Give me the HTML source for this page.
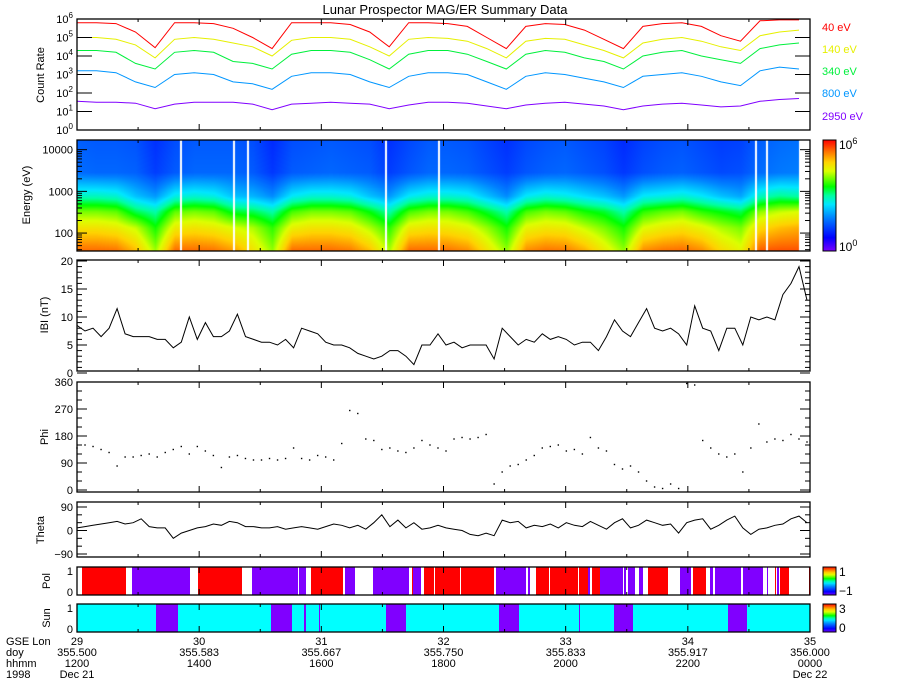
<!DOCTYPE html>
<html><head><meta charset="utf-8"><style>
html,body{margin:0;padding:0;background:#fff;width:900px;height:700px;overflow:hidden}
#wrap{position:relative;width:900px;height:700px}
canvas{position:absolute;left:0;top:0}
svg{position:absolute;left:0;top:0}
text{font-family:"Liberation Sans",sans-serif}
</style></head><body>
<div id="wrap">
<canvas id="spec" width="900" height="700"></canvas>
<svg id="svg" width="900" height="700" xmlns="http://www.w3.org/2000/svg">
<defs>
<linearGradient id="rb" x1="0" y1="1" x2="0" y2="0">
<stop offset="0" stop-color="rgb(120,0,255)"/><stop offset="0.12" stop-color="rgb(0,0,255)"/><stop offset="0.3" stop-color="rgb(0,130,255)"/><stop offset="0.42" stop-color="rgb(0,230,255)"/><stop offset="0.5" stop-color="rgb(0,255,160)"/><stop offset="0.58" stop-color="rgb(0,255,0)"/><stop offset="0.72" stop-color="rgb(220,255,0)"/><stop offset="0.8" stop-color="rgb(255,210,0)"/><stop offset="0.9" stop-color="rgb(255,110,0)"/><stop offset="1" stop-color="rgb(255,0,0)"/>
</linearGradient>
</defs>
<text x="445" y="14" font-size="13" text-anchor="middle" fill="#000">Lunar Prospector MAG/ER Summary Data</text>
<g id="g"></g>
</svg>
</div>
<script>
// ---- data ----
const channelLabels = ["40 eV","140 eV","340 eV","800 eV","2950 eV"];
const channelEnergies = [40,140,340,800,2950];
const count40 = [5.8,5.8,5.75,5.3,4.45,5.8,5.8,5.75,5.5,5.0,4.4,5.8,5.8,5.8,5.7,5.3,4.5,5.8,5.8,5.75,5.6,5.0,4.4,5.6,5.75,5.7,5.4,4.9,4.4,5.6,5.75,5.8,5.6,5.1,4.8,5.9,5.95,5.95];
const count140 = [5.0,5.0,4.9,4.6,3.9,4.9,5.0,4.9,4.7,4.5,4.0,4.85,5.0,5.0,4.9,4.5,4.0,4.9,5.0,4.95,4.8,4.4,3.9,4.8,4.95,4.9,4.6,4.3,3.9,4.7,4.9,5.0,4.8,4.5,4.3,5.1,5.3,5.4];
const count340 = [4.3,4.3,4.2,3.6,3.3,4.2,4.3,4.2,3.7,3.6,3.3,4.1,4.3,4.3,4.2,3.8,3.3,4.1,4.3,4.3,4.1,3.7,3.3,4.1,4.3,4.2,3.9,3.7,3.3,4.0,4.2,4.3,4.0,3.8,3.6,4.4,4.6,4.7];
const count800 = [3.2,3.2,3.1,2.6,2.3,3.0,3.1,3.0,2.6,2.5,2.2,2.9,3.1,3.1,3.0,2.6,2.3,2.9,3.1,3.1,3.0,2.6,2.2,2.9,3.1,3.0,2.8,2.6,2.3,2.9,3.0,3.1,2.9,2.6,2.4,3.2,3.4,3.3];
const count2950 = [1.55,1.5,1.5,1.45,1.15,1.4,1.5,1.5,1.5,1.4,1.1,1.4,1.45,1.5,1.45,1.4,1.15,1.35,1.5,1.5,1.45,1.3,1.15,1.35,1.45,1.5,1.4,1.3,1.1,1.3,1.4,1.45,1.35,1.25,1.3,1.55,1.65,1.7];
const specGaps = [0.143,0.216,0.235,0.426,0.5,0.939,0.954];
const bMag = [8.5,7.5,8,6.5,8,11.5,7,6.5,6.5,6.5,6,6,4.5,5.5,10,6,9,6.5,6.5,7.5,10.5,6.5,6,5.5,5.5,5,6,4.5,8,7.5,7,5.5,5,5,4.5,3.5,3,2.5,3,4,4,3,1.5,5,5,7,5,5.5,4.5,5,5,5,2.5,8,6.5,5,6,5.5,7,6,6.5,6,5,5.5,5.5,4,6.5,9.5,7.5,6.5,9,11.5,8,7.5,8,7,5,12,8,7.5,4,8,8,5,10,9.5,10,9.5,14,16,19,13];
const phi = [140,150,145,135,125,80,110,110,115,120,110,125,135,145,120,145,130,115,75,110,115,105,100,100,105,100,105,140,105,100,115,110,100,155,265,255,170,165,135,140,130,125,140,165,150,140,130,170,175,170,175,185,20,60,80,85,100,115,140,145,150,130,135,120,175,140,130,85,70,80,60,30,10,5,20,5,355,350,165,140,120,110,120,60,140,220,160,170,165,185,170,160];
const theta = [10,15,20,25,30,35,25,30,45,15,10,10,-30,-10,0,10,15,25,20,35,30,15,15,10,10,15,5,10,15,10,5,15,25,20,10,20,5,30,60,15,40,10,30,5,10,20,10,5,0,-15,-20,-10,-20,40,30,35,10,20,15,25,10,30,20,15,35,20,5,30,45,10,20,40,30,20,25,-10,30,40,45,5,20,40,55,10,-15,5,10,20,25,45,55,30];
const polStart = [82,132,198,252,299,311,345,373,412,413,424,435,461,496,528,536,550,579,588,592,600,624,628,639,648,667,680,693,710,715,743,767,775,777,780,809];
const polEnd =   [126,190,242,298,306,343,355,409,413,421,434,460,494,526,530,549,578,588,590,600,623,626,635,643,667,668,691,706,713,741,763,768,776,779,789,810];
const polValue = [1,-1,1,-1,-1,1,-1,-1,1,-1,1,1,1,-1,-1,1,1,1,-1,1,-1,-1,-1,-1,1,1,-1,1,-1,-1,-1,-1,1,-1,1,1];
const sunStart = [77,156,178,271,292,304,306,319,320,386,406,499,519,579,580,614,633,728,747];
const sunEnd =   [156,178,271,292,304,306,319,320,386,406,499,519,579,580,614,633,728,747,810];
const sunValue = [1,0,1,0,1,0,1,0,1,0,1,0,1,0,1,0,1,0,1];
const gseLon = ["29","30","31","32","33","34","35"];
const doyLabels = ["355.500","355.583","355.667","355.750","355.833","355.917","356.000"];
const hhmmLabels = ["1200","1400","1600","1800","2000","2200","0000"];
const dateLabels = ["Dec 21","","","","","","Dec 22"];

// ---- geometry ----
const X0=77, X1=810, XD=799;
const NS="http://www.w3.org/2000/svg";
const g=document.getElementById('g');
function el(tag,attrs,parent){const e=document.createElementNS(NS,tag);for(const k in attrs)e.setAttribute(k,attrs[k]);(parent||g).appendChild(e);return e;}
const xCount=i=>X0+i*(XD-X0)/(count40.length-1);
const xB=i=>X0+i*(807-X0)/(bMag.length-1);
const xFrac=t=>X0+t*(XD-X0);
const yCount=v=>130-v*18.5;
const yB=v=>Math.max(260,373-v*5.6);
const yPhi=v=>490-v*0.3;
const yTheta=v=>530.5-v*23.5/90;
const panels=[["count-rate-panel",19,130],["spectrogram-panel",140,251],["bmag-panel",260,371],["phi-panel",382,492],["theta-panel",502,557],["pol-panel",567,595],["sun-panel",604,632]];

// colormap
const cmap=[[0,120,0,255],[0.12,0,0,255],[0.3,0,130,255],[0.42,0,230,255],[0.5,0,255,160],[0.58,0,255,0],[0.72,220,255,0],[0.8,255,210,0],[0.9,255,110,0],[1,255,0,0]];
function color(v){v=Math.max(0,Math.min(1,v));for(let i=1;i<cmap.length;i++){if(v<=cmap[i][0]){const a=cmap[i-1],b=cmap[i],f=(v-a[0])/(b[0]-a[0]);return [a[1]+f*(b[1]-a[1]),a[2]+f*(b[2]-a[2]),a[3]+f*(b[3]-a[3])].map(Math.round);}}return [255,0,0];}

// spectrogram
const series=[count40,count140,count340,count800,count2950];
const logE=channelEnergies.map(Math.log10);
function interpT(arr,t){const f=t*(arr.length-1);const i=Math.min(arr.length-2,Math.floor(f));const r=f-i;return arr[i]*(1-r)+arr[i+1]*r;}
(function(){
const ctx=document.getElementById('spec').getContext('2d');
for(let px=X0;px<XD;px++){
 const t=(px-X0)/(XD-X0);
 const vals=series.map(s=>interpT(s,t));
 vals[4]=vals[4]+0.4;
 for(let py=140;py<251;py++){
  const le=4.24-(py-140)/41.7;
  let v;
  if(le<=logE[0])v=vals[0];
  else if(le>=logE[4])v=vals[4]-0.15*(le-logE[4]);
  else{for(let k=0;k<4;k++){if(le<=logE[k+1]){const r=(le-logE[k])/(logE[k+1]-logE[k]);v=vals[k]*(1-r)+vals[k+1]*r;break;}}}
  const c=color((v-0.3)/6.1);
  ctx.fillStyle=`rgb(${c[0]},${c[1]},${c[2]})`;ctx.fillRect(px,py,1,1);
 }
}
ctx.fillStyle='#fff';
specGaps.forEach(t=>ctx.fillRect(Math.round(xFrac(t)),140,2,111));
})();

// pol / sun bars
polStart.forEach((s,i)=>{const r=el('rect',{x:s,y:567,width:polEnd[i]-s,height:28,fill:polValue[i]>0?'rgb(255,0,0)':'rgb(128,0,255)'});

});
sunStart.forEach((s,i)=>{const r=el('rect',{x:s,y:604,width:sunEnd[i]-s,height:28,fill:sunValue[i]>0?'rgb(0,255,255)':'rgb(128,0,255)'});

});

// count rate lines
const cColors=['rgb(255,0,0)','rgb(230,240,0)','rgb(0,240,60)','rgb(0,150,255)','rgb(128,0,255)'];
series.forEach((s,k)=>{const p=el('polyline',{points:s.map((v,i)=>xCount(i).toFixed(1)+','+yCount(v).toFixed(1)).join(' '),fill:'none',stroke:cColors[k],'stroke-width':1});


const t=el('text',{x:822,y:[31,53,75,97,120][k],'font-size':11,fill:cColors[k]});t.textContent=channelLabels[k];

});

// |B|
const bl=el('polyline',{points:bMag.map((v,i)=>xB(i).toFixed(1)+','+yB(v).toFixed(1)).join(' '),fill:'none',stroke:'#000','stroke-width':1});


// phi
phi.forEach((v,i)=>{const r=el('rect',{x:xB(i)-0.7,y:yPhi(v)-0.7,width:1.4,height:1.4,fill:'#000'});

});
// theta
const tl=el('polyline',{points:theta.map((v,i)=>xB(i).toFixed(1)+','+yTheta(v).toFixed(1)).join(' '),fill:'none',stroke:'#000','stroke-width':1});



// frames & x ticks
panels.forEach(([n,t,b])=>{const r=el('rect',{x:X0,y:t,width:X1-X0,height:b-t,fill:'none',stroke:'#000','stroke-width':1.3});


for(let k=0;k<=12;k++){const x=X0+k*(X1-X0)/12;const L=k%2?3:6;
el('line',{x1:x,y1:t,x2:x,y2:t+L,stroke:'#000'});el('line',{x1:x,y1:b,x2:x,y2:b-L,stroke:'#000'});}});

function ytick(y,L){el('line',{x1:X0,y1:y,x2:X0+L,y2:y,stroke:'#000'});el('line',{x1:X1,y1:y,x2:X1-L,y2:y,stroke:'#000'});}
function ylab(txt,y,name,sup){const t=el('text',{x:73,y:y+4,'font-size':11,'text-anchor':'end',fill:'#000'});t.textContent=txt;
if(sup!==undefined){const s=el('tspan',{dy:-5,'font-size':8},t);s.textContent=sup;}

}
for(let d=0;d<=6;d++){ytick(yCount(d),15);ylab('10',yCount(d),'count-tick-label','' + d);}
[100,1000,10000].forEach(E=>{ylab(String(E),251-(Math.log10(E)-1.57)*41.7,'energy-tick-label');});
for(let dec=1;dec<=4;dec++)for(let m=1;m<=9;m++){const E=m*Math.pow(10,dec);const y=251-(Math.log10(E)-1.57)*41.7;if(y<140||y>251)continue;ytick(y,m===1?10:5);}
for(let v=0;v<=20;v++){ytick(yB(v),v%5?5:10);}
[0,5,10,15,20].forEach(v=>ylab(String(v),yB(v),'bmag-tick-label'));
for(let v=0;v<=360;v+=30){ytick(yPhi(v),v%90?5:10);}
[0,90,180,270,360].forEach(v=>ylab(String(v),yPhi(v),'phi-tick-label'));
for(let v=-90;v<=90;v+=30){ytick(yTheta(v),v%90?5:10);}
[-90,0,90].forEach(v=>ylab(v<0?'\u221290':String(v),yTheta(v),'theta-tick-label'));
ylab('1',571,'pol-tick-label');ylab('0',592,'pol-tick-label');
ylab('1',608,'sun-tick-label');ylab('0',629,'sun-tick-label');

// y titles
[["Count Rate",44,75],["Energy (eV)",30,195],["IBI (nT)",48,315],["Phi",48,437],["Theta",44,530],["Pol",50,581],["Sun",50,618]].forEach(([s,x,y])=>{
const t=el('text',{x:x,y:y,'font-size':11,'text-anchor':'middle',fill:'#000',transform:`rotate(-90 ${x} ${y})`});t.textContent=s;

});

// colorbars
[[140,251,'10','6','10','0','spectrogram-colorbar'],[567,595,'1','','\u22121','','pol-colorbar'],[604,632,'3','','0','','sun-colorbar']].forEach(([t,b,hi,hs,lo,ls,n])=>{
const r=el('rect',{x:823,y:t,width:13,height:b-t,fill:'url(#rb)',stroke:'#000','stroke-width':1});


const a=el('text',{x:839,y:t+9,'font-size':12,fill:'#000'});a.textContent=hi;if(hs){const s=el('tspan',{dy:-5,'font-size':9},a);s.textContent=hs;}


const c=el('text',{x:839,y:b,'font-size':12,fill:'#000'});c.textContent=lo;if(ls){const s=el('tspan',{dy:-5,'font-size':9},c);s.textContent=ls;}

});

// bottom x labels
[["GSE Lon",645],["doy",656],["hhmm",667],["1998",678]].forEach(([s,y])=>{const t=el('text',{x:6,y:y,'font-size':11,fill:'#000'});t.textContent=s;

});
gseLon.forEach((s,i)=>{const x=X0+i*(X1-X0)/6;[s,doyLabels[i],hhmmLabels[i],dateLabels[i]].forEach((v,j)=>{if(!v)return;const t=el('text',{x:x,y:645+11*j,'font-size':11,'text-anchor':'middle',fill:'#000'});t.textContent=v;

});});
</script>
</body></html>
